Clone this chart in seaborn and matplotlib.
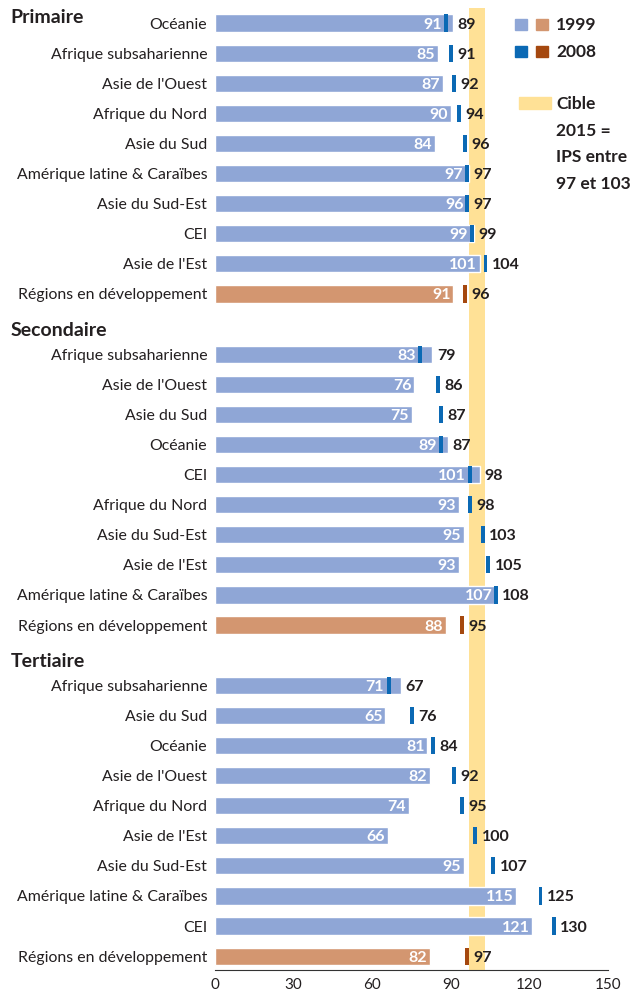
import numpy as np
import pandas as pd
import matplotlib.pyplot as plt
import seaborn as sns
from matplotlib.patches import Rectangle

sns.set_style("white")
plt.rcParams['font.family'] = ['Lato', 'DejaVu Sans']

# Data (IPS = indice de parité des sexes)
groups = ['Primaire', 'Secondaire', 'Tertiaire']

primaire_regions = ['Océanie', 'Afrique subsaharienne', "Asie de l'Ouest", 'Afrique du Nord',
                    'Asie du Sud', 'Amérique latine & Caraïbes', 'Asie du Sud-Est', 'CEI',
                    "Asie de l'Est", 'Régions en développement']
primaire_1999 = [91, 85, 87, 90, 84, 97, 96, 99, 101, 91]
primaire_2008 = [89, 91, 92, 94, 96, 97, 97, 99, 104, 96]

secondaire_regions = ['Afrique subsaharienne', "Asie de l'Ouest", 'Asie du Sud', 'Océanie', 'CEI',
                      'Afrique du Nord', 'Asie du Sud-Est', "Asie de l'Est",
                      'Amérique latine & Caraïbes', 'Régions en développement']
secondaire_1999 = [83, 76, 75, 89, 101, 93, 95, 93, 107, 88]
secondaire_2008 = [79, 86, 87, 87, 98, 98, 103, 105, 108, 95]

tertiaire_regions = ['Afrique subsaharienne', 'Asie du Sud', 'Océanie', "Asie de l'Ouest",
                     'Afrique du Nord', "Asie de l'Est", 'Asie du Sud-Est',
                     'Amérique latine & Caraïbes', 'CEI', 'Régions en développement']
tertiaire_1999 = [71, 65, 81, 82, 74, 66, 95, 115, 121, 82]
tertiaire_2008 = [67, 76, 84, 92, 95, 100, 107, 125, 130, 97]

target_low, target_high = 97, 103
xticks = [0, 30, 60, 90, 120, 150]

# Colours
c_bar = '#8FA6D6'
c_bar_dev = '#D39670'
c_mark = '#0B69B4'
c_mark_dev = '#A5480F'
c_target = '#FFE196'
c_text = '#231F20'

# Build table: each group takes 10 rows plus one header slot
rows = []
for g, (regs, v99, v08) in enumerate([(primaire_regions, primaire_1999, primaire_2008),
                                        (secondaire_regions, secondaire_1999, secondaire_2008),
                                        (tertiaire_regions, tertiaire_1999, tertiaire_2008)]):
    for i, (r, a, b) in enumerate(zip(regs, v99, v08)):
        rows.append({'group': groups[g], 'region': r, 'pos': g * 11 + i, 'v1999': a, 'v2008': b,
                     'kind': 'dev' if r.startswith('Régions') else 'reg'})
df = pd.DataFrame(rows)

fig = plt.figure(figsize=(6.34, 9.97), dpi=100)
ax = fig.add_axes([215 / 634, 27 / 997, 393 / 634, 962 / 997])

ax.axvspan(target_low, target_high, color=c_target, lw=0, zorder=0)

sns.barplot(data=df, x='v1999', y='pos', hue='kind', orient='h', native_scale=True,
            palette={'reg': c_bar, 'dev': c_bar_dev}, dodge=False, width=0.57,
            legend=False, ax=ax, zorder=2, saturation=1)

mark_w = 1.5
for _, r in df.iterrows():
    a, b = r['v1999'], r['v2008']
    mc = c_mark_dev if r['kind'] == 'dev' else c_mark
    ax.barh(r['pos'], mark_w, left=b - mark_w, height=0.57, color=mc, lw=0, zorder=3)
    # white value sits left of the 2008 marker when the marker falls inside the bar
    right = min(a, b - mark_w) if b <= a + 0.5 else a
    ax.text(right - 1.0, r['pos'] + 0.05, f"{a}", ha='right', va='center',
            color='white', fontsize=11.5, fontweight='bold', zorder=4)
    ax.text(max(a, b) + 1.7, r['pos'] + 0.05, f"{b}", ha='left', va='center',
            color=c_text, fontsize=11.5, fontweight='bold', zorder=4)
    ax.text(-3.0, r['pos'] + 0.05, r['region'], ha='right', va='center', color=c_text,
            fontsize=11.4, clip_on=False)

# Group headers
header_pos = [-0.2, 10.2, 21.2]
for name, hp in zip(groups, header_pos):
    ax.text(-78.0, hp, name, ha='left', va='center', color=c_text, fontsize=14,
            fontweight='bold', clip_on=False)

ax.set_xlim(0, 150)
ax.set_ylim(31.46, -0.5)
ax.set_xticks(xticks)
ax.set_xticklabels([str(t) for t in xticks], fontsize=11, color=c_text)
ax.set_yticks([])
ax.set_xlabel('')
ax.set_ylabel('')
ax.tick_params(axis='x', length=0, pad=6)
for s in ['top', 'right', 'left']:
    ax.spines[s].set_visible(False)
ax.spines['bottom'].set_color('#333333')
ax.spines['bottom'].set_linewidth(0.8)

# Legend
fig.patches.append(Rectangle((515 / 634, 1 - 30 / 997), 12 / 634, 11 / 997, color=c_bar,
                             transform=fig.transFigure, figure=fig))
fig.patches.append(Rectangle((536 / 634, 1 - 30 / 997), 12 / 634, 11 / 997, color=c_bar_dev,
                             transform=fig.transFigure, figure=fig))
fig.patches.append(Rectangle((515 / 634, 1 - 57 / 997), 12 / 634, 11 / 997, color=c_mark,
                             transform=fig.transFigure, figure=fig))
fig.patches.append(Rectangle((536 / 634, 1 - 57 / 997), 12 / 634, 11 / 997, color=c_mark_dev,
                             transform=fig.transFigure, figure=fig))
fig.patches.append(Rectangle((519 / 634, 1 - 109 / 997), 32 / 634, 12 / 997, color=c_target,
                             transform=fig.transFigure, figure=fig))
fig.text(556 / 634, 1 - 25 / 997, '1999', ha='left', va='center', fontsize=12.5,
         fontweight='bold', color=c_text)
fig.text(556 / 634, 1 - 52 / 997, '2008', ha='left', va='center', fontsize=12.5,
         fontweight='bold', color=c_text)
for k, line in enumerate(['Cible', '2015 =', 'IPS entre', '97 et 103']):
    fig.text(556 / 634, 1 - (104 + 26.7 * k) / 997, line, ha='left', va='center', fontsize=12.5,
             fontweight='bold', color=c_text)

fig.savefig('out.png', dpi=100)
